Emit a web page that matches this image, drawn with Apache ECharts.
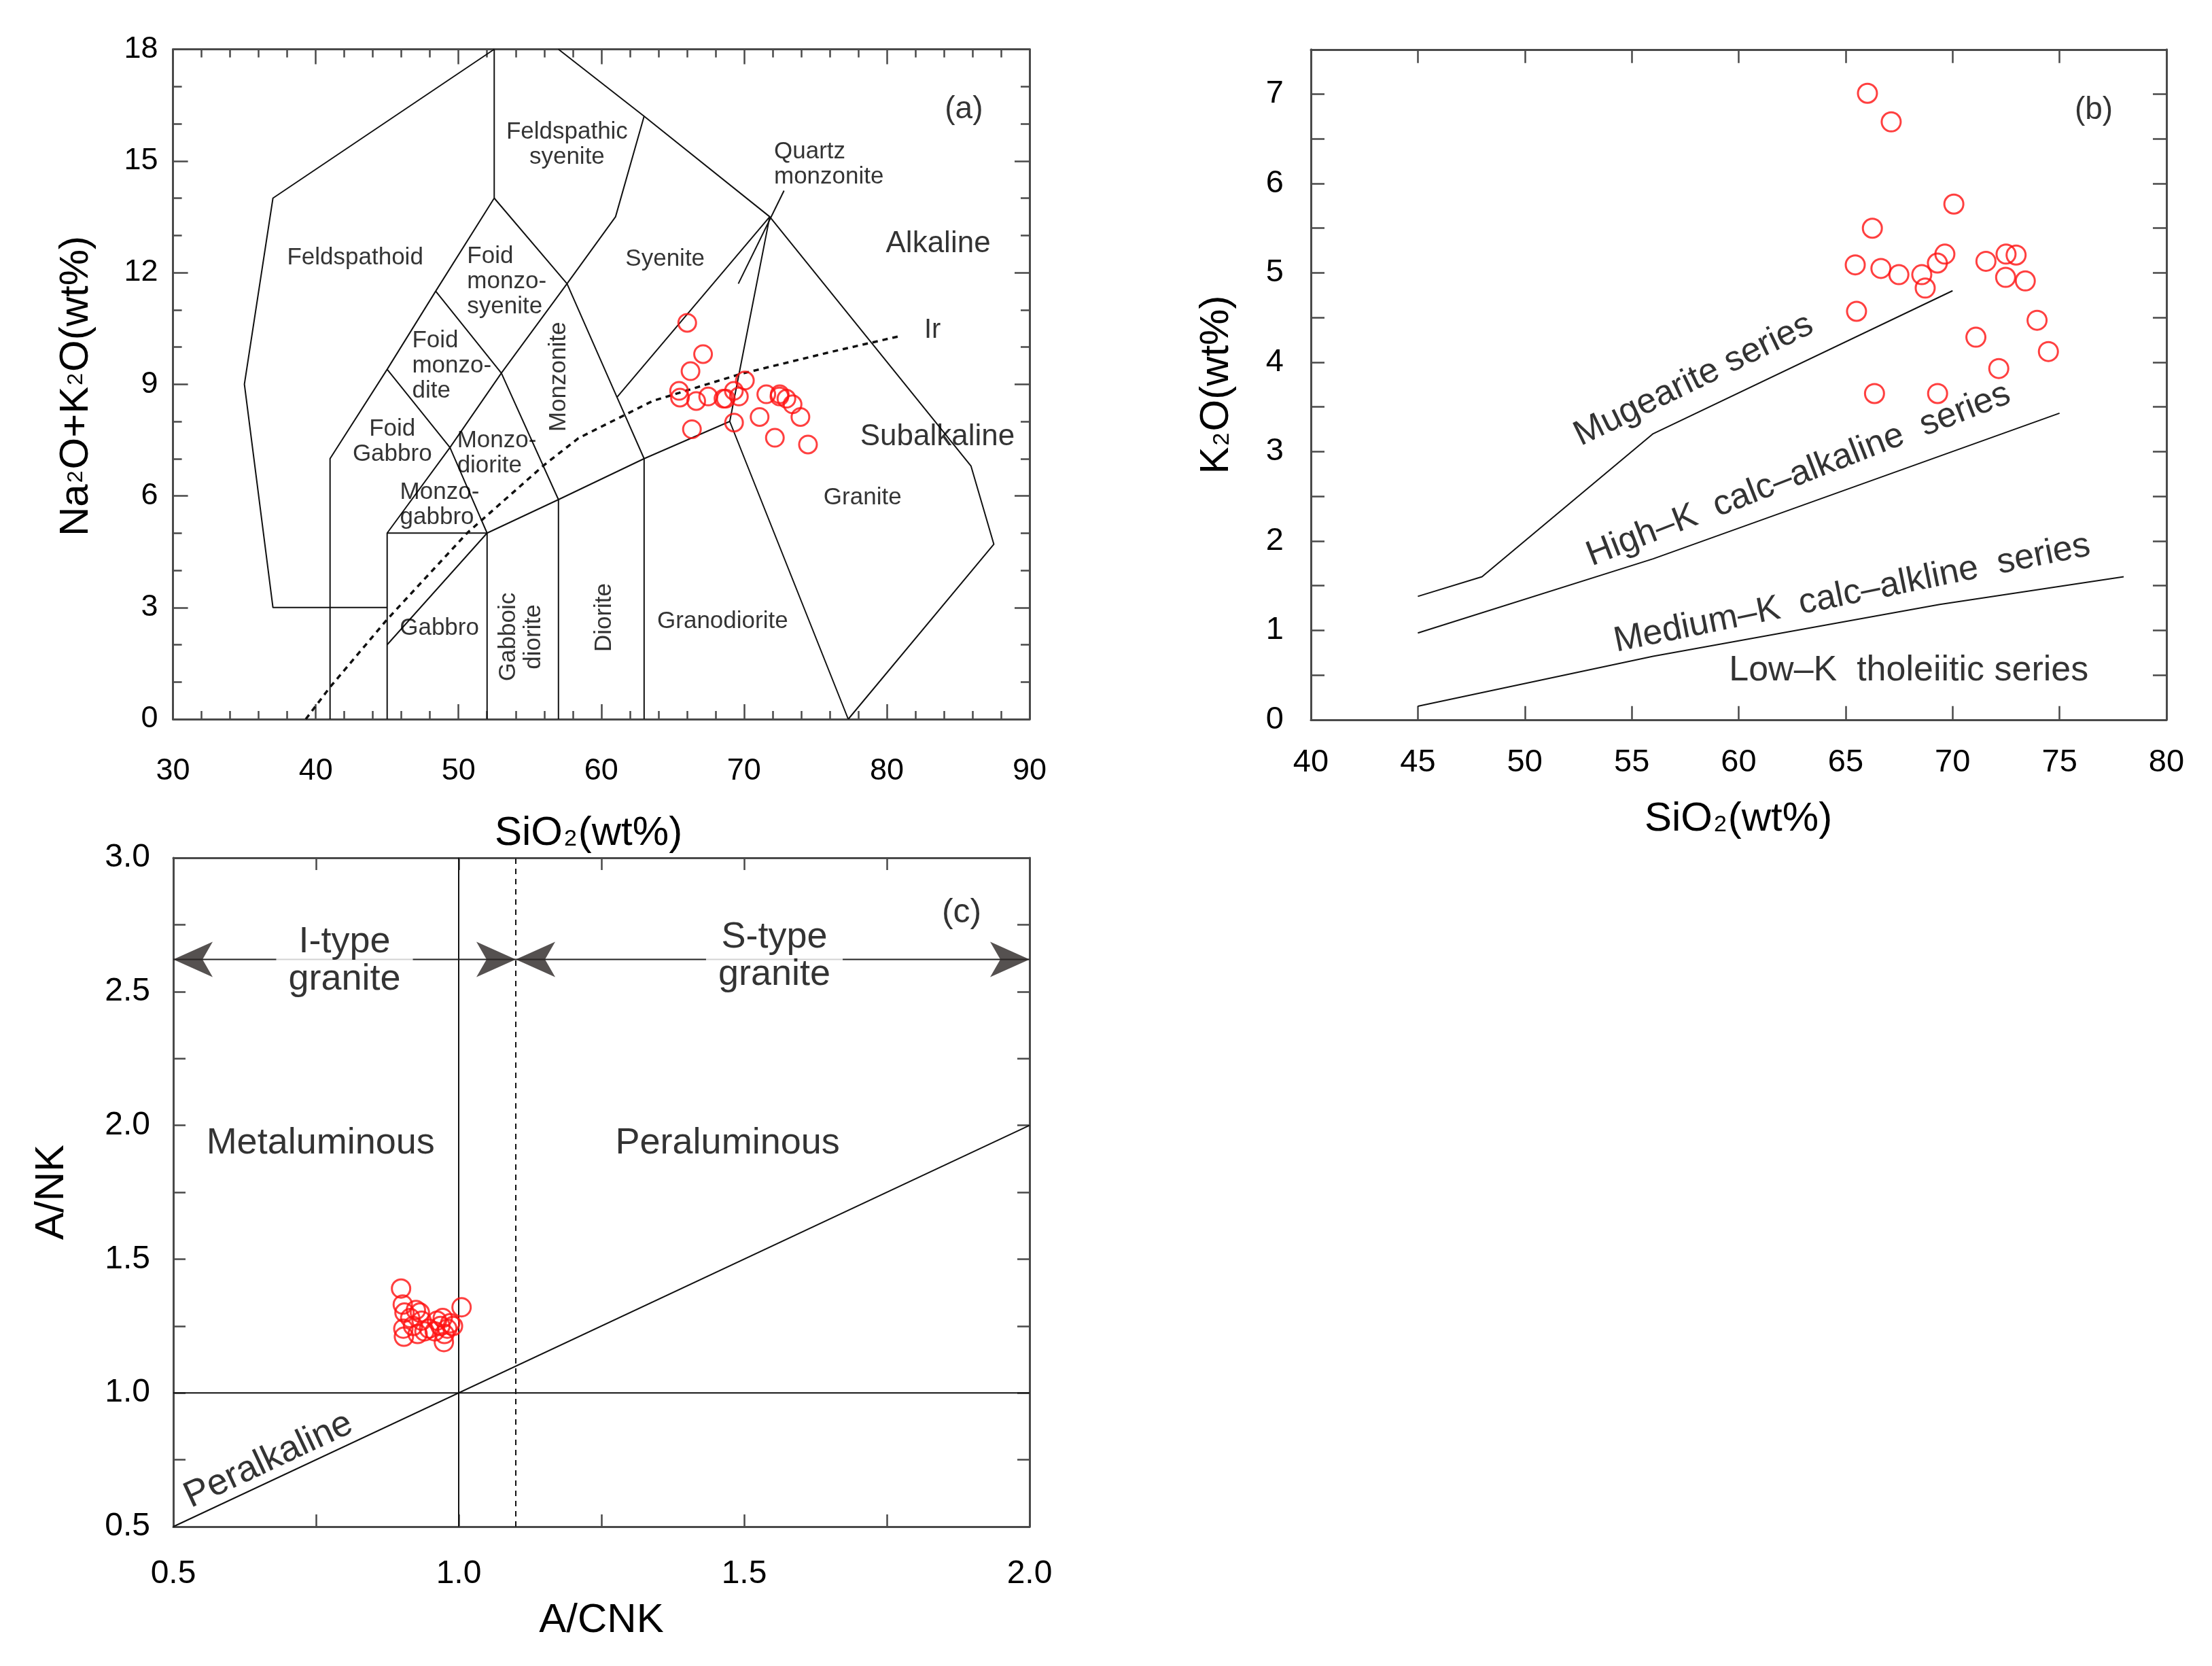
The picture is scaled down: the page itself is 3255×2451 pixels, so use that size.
<!DOCTYPE html>
<html><head><meta charset="utf-8">
<script src="https://cdn.jsdelivr.net/npm/echarts@6/dist/echarts.min.js"></script>
<style>html,body{margin:0;padding:0;background:#fff}#c{width:3255px;height:2451px}</style>
</head><body><div id="c"></div>
<script>
// ================= DATA =================
// Samples (same samples in panels a and b)
const sio2   = [66.02,67.13,70.06,66.25,65.45,66.65,67.49,68.56,68.72,69.29,69.64,71.56,72.50,72.97,72.48,73.40,65.51,73.95,71.09,74.48,72.16,66.35,69.30];
const alkali = [10.65,9.81,9.10,9.35,8.82,8.55,8.67,8.61,8.61,8.82,8.67,8.73,8.73,8.61,8.67,8.46,8.64,8.12,8.12,7.38,7.56,7.79,7.97];
const k2o    = [7.01,6.69,5.77,5.50,5.09,5.05,4.98,4.98,4.83,5.11,5.21,5.13,5.21,5.20,4.95,4.91,4.57,4.47,4.28,4.12,3.93,3.65,3.65];
// Panel c
const acnk = [0.899,0.902,0.905,0.903,0.904,0.915,0.925,0.932,0.920,0.928,0.935,0.940,0.948,0.958,0.962,0.968,0.972,0.975,0.974,0.980,0.985,0.990,1.005];
const ank  = [1.39,1.33,1.30,1.24,1.21,1.28,1.31,1.30,1.25,1.22,1.27,1.23,1.24,1.23,1.27,1.25,1.28,1.22,1.19,1.24,1.26,1.25,1.32];

// Panel a: TAS (Middlemost 1994) boundaries
const tasLeft      = [[45,3],[37,3],[35,9],[37,14],[52.5,18]];
const tasRight     = [[57,18],[63,16.2],[71.8,13.5],[85.9,6.8],[87.5,4.7],[77.3,0]];
const tasB1        = [[41,0],[41,7],[45,9.4],[48.4,11.5],[52.5,14],[52.5,18]];
const tasB2        = [[45,0],[45,5],[52,5],[52,0]];
const tasB3        = [[45,2],[52,5],[57,5.9],[63,7],[69,8]];
const tasB4        = [[57,0],[57,5.9]];
const tasB5        = [[63,0],[63,7]];
const tasB6        = [[77.3,0],[69,8],[71.8,13.5]];
const tasB7        = [[45,5],[49.4,7.3],[52,5]];
const tasB8        = [[45,9.4],[49.4,7.3],[53,9.3],[57.6,11.7],[61,13.5],[63,16.2]];
const tasB9        = [[48.4,11.5],[53,9.3],[57,5.9]];
const tasB10       = [[52.5,14],[57.6,11.7],[61.1,8.65],[63,7]];
const tasB11       = [[61.1,8.65],[71.8,13.5]];
const tasLeader    = [[72.8,14.2],[69.6,11.7]];
const irvineLine   = [[39.3,0],[41,0.86],[45,2.68],[50.6,5.0],[56,6.83],[58.4,7.55],[63.6,8.55],[69.8,9.28],[76,9.86],[81,10.3]];
const tasLines = [tasLeft,tasRight,tasB1,tasB2,tasB3,tasB4,tasB5,tasB6,tasB7,tasB8,tasB9,tasB10,tasB11,tasLeader];

// Panel b: SiO2-K2O series boundaries
const mugeariteLine = [[45,1.38],[48,1.6],[56,3.2],[70,4.8]];
const highKLine     = [[45,0.97],[56,1.8],[75,3.43]];
const lowKLine      = [[45,0.15],[56,0.71],[69.4,1.29],[78,1.6]];

// Panel c: A/CNK - A/NK boundaries
const cHoriz   = [[0.5,1],[2,1]];
const cVert    = [[1,0.5],[1,3]];
const cDiag    = [[0.5,0.5],[2,2]];
const cDashed  = [[1.1,0.5],[1.1,3]];
const arrowY = 2.62;
const arrowI = [[0.5,arrowY],[1.1,arrowY]];
const arrowS = [[1.1,arrowY],[2.0,arrowY]];

// Axis ranges / tick labels
const axA = {xmin:30,xmax:90,xint:10,ymin:0,ymax:18,yint:3};
const axB = {xmin:40,xmax:80,xint:5,ymin:0,ymax:7.5,yint:0.5};
const axC = {xmin:0.5,xmax:2.0,xint:0.5,ymin:0.5,ymax:3.0,yint:0.5};

// Annotation texts (data coordinates)
const labelsA = [
  {t:'Feldspathic\nsyenite', x:57.6, y:15.43},
  {t:'Feldspathoid', x:42.76, y:12.39},
  {t:'Foid\nmonzo-\nsyenite', x:50.6, y:11.75, al:'left'},
  {t:'Syenite', x:64.47, y:12.36},
  {t:'Quartz\nmonzonite', x:72.1, y:14.9, al:'left'},
  {t:'Granite', x:78.3, y:5.94},
  {t:'Granodiorite', x:68.5, y:2.63},
  {t:'Diorite', x:60.2, y:2.73, rot:90},
  {t:'Gabboic\ndiorite', x:54.4, y:2.21, rot:90},
  {t:'Gabbro', x:48.66, y:2.45},
  {t:'Monzo-\ngabbro', x:45.9, y:5.76, al:'left'},
  {t:'Monzo-\ndiorite', x:49.9, y:7.15, al:'left'},
  {t:'Foid\nGabbro', x:45.36, y:7.45},
  {t:'Foid\nmonzo-\ndite', x:46.75, y:9.5, al:'left'},
  {t:'Monzonite', x:57.05, y:9.2, rot:90}
];
const labelsABig = [
  {t:'Alkaline', x:83.6, y:12.77, s:44},
  {t:'Subalkaline', x:83.55, y:7.58, s:44},
  {t:'(a)', x:85.4, y:16.37, s:46},
  {t:'Ir', x:83.2, y:10.45, s:40}
];
const labelsB = [
  {t:'Mugearite series', x:57.9, y:3.8, rot:26},
  {t:'High\u2013K  calc\u2013alkaline  series', x:62.8, y:2.74, rot:21.3},
  {t:'Medium\u2013K  calc\u2013alkline  series', x:65.3, y:1.41, rot:11.5},
  {t:'Low\u2013K  tholeiitic series', x:67.95, y:0.545, rot:0},
  {t:'(b)', x:76.6, y:6.82, rot:0, s:46}
];
const labelsC = [
  {t:'I-type\ngranite', x:0.8, y:2.615, bg:true},
  {t:'S-type\ngranite', x:1.553, y:2.632, bg:true},
  {t:'Metaluminous', x:0.758, y:1.932},
  {t:'Peraluminous', x:1.471, y:1.932},
  {t:'(c)', x:1.881, y:2.793, s:50},
  {t:'Peralkaline', x:0.667, y:0.748, rot:25.1}
];

// ================= CHART =================
const FONT = 'Liberation Sans, Arial, Helvetica, sans-serif';
const FRAME = '#4a4a4a';
const INK = '#000';

const grids = [
  {left:254.6, top:72.5, width:1260.4, height:985.5},
  {left:1929, top:72.8, width:1259, height:986},
  {left:255, top:1262, width:1260, height:984}
];
// axis index of each panel's bottom/left axis
const PA = 0, PB = 2, PC = 4;

function axis(kind, gi, pos, r, showLabel, opt) {
  const isX = kind === 'x';
  return {
    type:'value', gridIndex:gi, position:pos,
    min: isX ? r.xmin : r.ymin, max: isX ? r.xmax : r.ymax,
    interval: isX ? r.xint : r.yint,
    axisLine:{show:true, onZero:false, lineStyle:{color:FRAME, width:3}},
    axisTick:{show:true, inside:true, length:opt.tick, lineStyle:{color:FRAME, width:2.5}},
    minorTick: opt.minor ? {show:true, splitNumber:opt.minor, length:opt.minorLen, lineStyle:{color:FRAME, width:2.5}} : {show:false},
    splitLine:{show:false},
    axisLabel:{show:showLabel, margin:opt.margin, fontSize:opt.fs, color:INK, fontFamily:FONT,
      formatter: opt.fmt || (v => String(v)), showMinLabel:true, showMaxLabel:true}
  };
}

const xAxes = [
  axis('x',0,'bottom',axA,true,{tick:22,minor:5,minorLen:12,margin:54,fs:45}),
  axis('x',0,'top',axA,false,{tick:22,minor:5,minorLen:12}),
  axis('x',1,'bottom',axB,true,{tick:20,margin:40,fs:47}),
  axis('x',1,'top',axB,false,{tick:20}),
  axis('x',2,'bottom',axC,true,{tick:18,minor:2,minorLen:18,margin:46,fs:48,fmt:v=>v.toFixed(1)}),
  axis('x',2,'top',axC,false,{tick:18,minor:2,minorLen:18})
];
const yAxes = [
  axis('y',0,'left',axA,true,{tick:22,minor:3,minorLen:13,margin:22,fs:45}),
  axis('y',0,'right',axA,false,{tick:22,minor:3,minorLen:13}),
  axis('y',1,'left',axB,true,{tick:20,margin:40,fs:47,fmt:v=>Number.isInteger(v)?String(v):''}),
  axis('y',1,'right',axB,false,{tick:20}),
  axis('y',2,'left',axC,true,{tick:18,minor:2,minorLen:18,margin:34,fs:48,fmt:v=>v.toFixed(1)}),
  axis('y',2,'right',axC,false,{tick:18,minor:2,minorLen:18})
];

function lineSeries(data, ax, style) {
  return {type:'line', xAxisIndex:ax, yAxisIndex:ax, data:data, showSymbol:false, symbol:'none',
    silent:true, animation:false, z:2,
    lineStyle:Object.assign({color:'#111', width:2}, style||{})};
}
function pointSeries(xs, ys, ax, size) {
  return {type:'scatter', xAxisIndex:ax, yAxisIndex:ax, data: xs.map((x,i)=>[x,ys[i]]),
    symbol:'circle', symbolSize:size, silent:true, animation:false, z:4,
    itemStyle:{color:'rgba(0,0,0,0)', borderColor:'#ff1010', borderWidth:3}};
}
function labelSeries(items, ax, base) {
  return {type:'scatter', xAxisIndex:ax, yAxisIndex:ax, symbolSize:1, silent:true, animation:false, z:6,
    itemStyle:{color:'rgba(0,0,0,0)'},
    data: items.map(d => ({value:[d.x,d.y], label:Object.assign({}, base, {
      show:true, position:'inside', formatter:d.t,
      align: d.al || 'center', verticalAlign:'middle',
      rotate: d.rot || 0,
      fontSize: d.s || base.fontSize
    }, d.bg ? {backgroundColor:'#fff', padding:[2,18]} : {})}))
  };
}

const series = [];
tasLines.forEach(l => series.push(lineSeries(l,PA)));
series.push(lineSeries(irvineLine,PA,{type:[8,7], width:3.5}));
series.push(pointSeries(sio2, alkali, PA, 26));
series.push(labelSeries(labelsA, PA, {fontSize:35, lineHeight:37, color:INK, fontFamily:FONT}));
series.push(labelSeries(labelsABig, PA, {fontSize:44, color:INK, fontFamily:FONT}));

[mugeariteLine, highKLine, lowKLine].forEach(l => series.push(lineSeries(l,PB)));
series.push(pointSeries(sio2, k2o, PB, 28));
series.push(labelSeries(labelsB, PB, {fontSize:52, color:INK, fontFamily:FONT}));

[cHoriz, cVert, cDiag].forEach(l => series.push(lineSeries(l,PC)));
series.push(lineSeries(cDashed,PC,{type:[8,7], width:2}));
series.push(lineSeries(arrowI,PC,{color:'#222'}));
series.push(lineSeries(arrowS,PC,{color:'#222'}));
// arrow heads (tips at the line ends)
const AW = 58, AH = 52;
const arrowRight = 'path://M0,0 L58,26 L0,52 L15,26 Z';
const arrowLeft  = 'path://M58,0 L0,26 L58,52 L43,26 Z';
series.push({type:'scatter', xAxisIndex:PC, yAxisIndex:PC, silent:true, animation:false, z:5,
  symbol:arrowRight, symbolSize:[AW,AH], symbolOffset:[-AW/2,0], itemStyle:{color:'#2a2524'},
  data:[arrowI[1], arrowS[1]]});
series.push({type:'scatter', xAxisIndex:PC, yAxisIndex:PC, silent:true, animation:false, z:5,
  symbol:arrowLeft, symbolSize:[AW,AH], symbolOffset:[AW/2,0], itemStyle:{color:'#2a2524'},
  data:[arrowI[0], arrowS[0]]});
series.push(pointSeries(acnk, ank, PC, 27));
series.push(labelSeries(labelsC, PC, {fontSize:54, lineHeight:55, color:INK, fontFamily:FONT}));

function title(x, y, text, rot, sub) {
  const mid = sub === 'mid';
  return {type:'text', x:x, y:y, rotation:rot||0, silent:true,
    style:{text:text, fill:INK, fontSize:60, fontFamily:FONT,
      align:'center', verticalAlign:'middle',
      rich:{n:{fontSize:60, fontFamily:FONT, fill:INK, verticalAlign:'middle'},
            s:{fontSize:mid?32:34, fontFamily:FONT, fill:INK, verticalAlign: mid?'middle':'bottom',
               padding: mid?[0,2,0,2]:[0,2,4,2]}}}};
}

const option = {
  backgroundColor:'#ffffff',
  animation:false,
  grid: grids,
  xAxis: xAxes,
  yAxis: yAxes,
  series: series,
  graphic: [
    title(112, 568, '{n|Na}{s|2}{n|O+K}{s|2}{n|O(wt%)}', Math.PI/2, 'mid'),
    title(866, 1226, '{n|SiO}{s|2}{n|(wt%)}', 0),
    title(1790, 566, '{n|K}{s|2}{n|O(wt%)}', Math.PI/2),
    title(2558, 1205, '{n|SiO}{s|2}{n|(wt%)}', 0),
    title(76, 1754, '{n|A/NK}', Math.PI/2),
    title(885, 2384, '{n|A/CNK}', 0)
  ]
};
const chart = echarts.init(document.getElementById('c'), null, {renderer:'canvas'});
chart.setOption(option);
</script>
</body></html>
